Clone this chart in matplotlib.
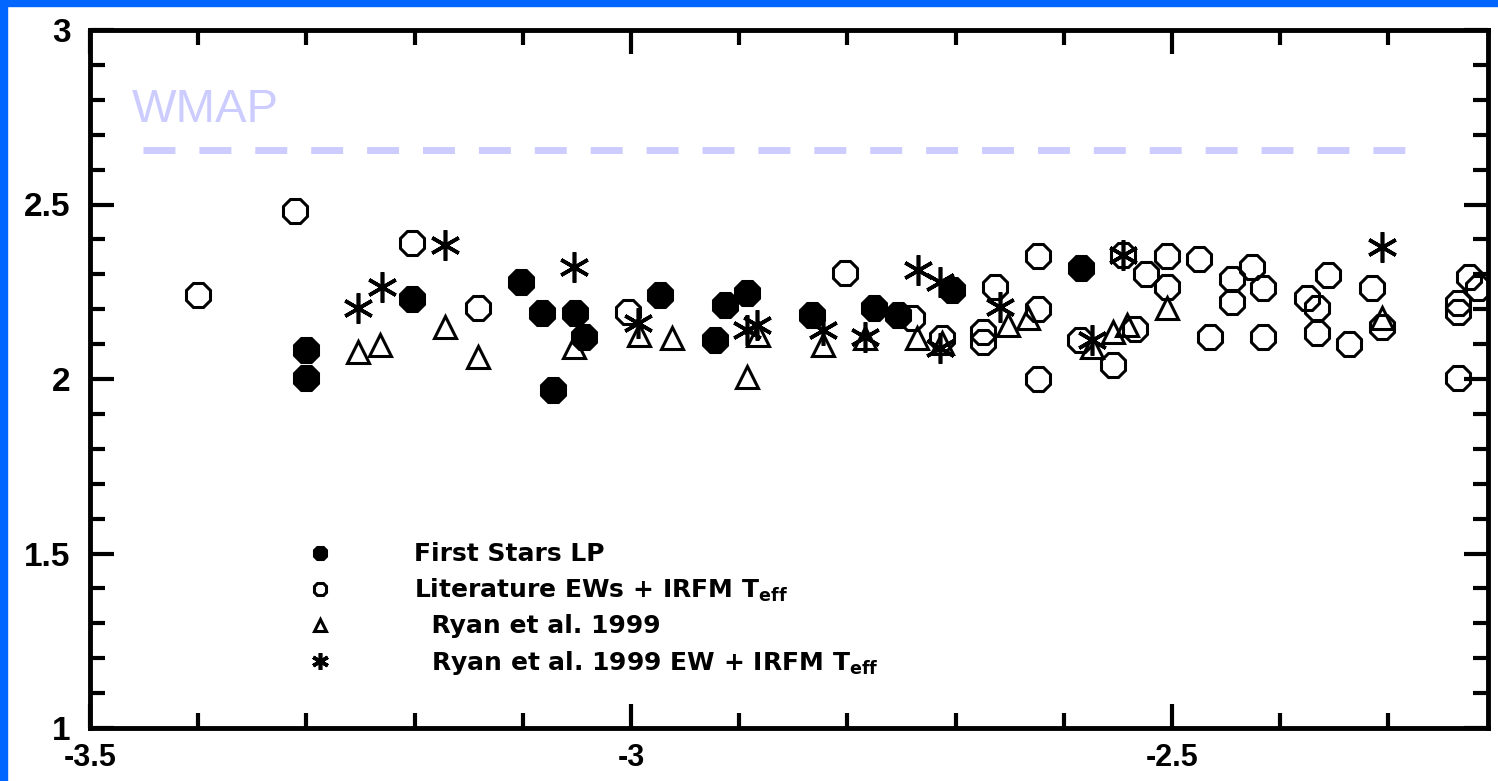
import matplotlib
matplotlib.use("Agg")
import matplotlib.pyplot as plt
from matplotlib.patches import Rectangle
from matplotlib.ticker import MultipleLocator, FuncFormatter

# First Stars LP (filled)
first_x = [-3.300, -3.300, -3.202, -3.102, -3.082, -3.052, -3.043, -3.072, -2.973,
           -2.922, -2.913, -2.893, -2.833, -2.775, -2.753, -2.703, -2.584]
first_y = [2.083, 2.003, 2.229, 2.278, 2.189, 2.189, 2.120, 1.968, 2.241,
           2.112, 2.212, 2.246, 2.183, 2.203, 2.183, 2.255, 2.318]

# Literature EWs + IRFM Teff (open)
lit_x = [-3.400, -3.311, -3.202, -3.141, -3.003, -2.802, -2.740, -2.713, -2.664, -2.675,
         -2.675, -2.624, -2.624, -2.624, -2.585, -2.555, -2.534, -2.545, -2.524, -2.505,
         -2.505, -2.475, -2.465, -2.445, -2.445, -2.426, -2.416, -2.416, -2.375, -2.366,
         -2.366, -2.356, -2.336, -2.315, -2.306, -2.236, -2.236, -2.226, -2.217, -2.236]
lit_y = [2.241, 2.481, 2.390, 2.203, 2.192, 2.304, 2.175, 2.117, 2.264, 2.135,
         2.106, 2.352, 2.201, 2.000, 2.112, 2.040, 2.143, 2.355, 2.301, 2.352,
         2.264, 2.344, 2.120, 2.287, 2.221, 2.321, 2.261, 2.120, 2.232, 2.203,
         2.132, 2.298, 2.100, 2.261, 2.149, 2.218, 2.192, 2.292, 2.261, 2.003]

# Ryan et al. 1999 (triangles)
ryan_x = [-3.252, -3.232, -3.172, -3.141, -3.053, -2.993, -2.962, -2.893, -2.883, -2.823,
          -2.784, -2.736, -2.713, -2.652, -2.633, -2.574, -2.555, -2.542, -2.505, -2.306]
ryan_y = [2.077, 2.097, 2.149, 2.063, 2.092, 2.126, 2.117, 2.006, 2.126, 2.097,
          2.117, 2.117, 2.103, 2.155, 2.175, 2.092, 2.135, 2.155, 2.203, 2.175]

# Ryan et al. 1999 EW + IRFM Teff (asterisks)
ryanirfm_x = [-3.252, -3.230, -3.172, -3.053, -2.994, -2.893, -2.884, -2.823, -2.784, -2.735,
              -2.714, -2.714, -2.659, -2.574, -2.545, -2.306]
ryanirfm_y = [2.203, 2.264, 2.384, 2.321, 2.160, 2.140, 2.155, 2.140, 2.120, 2.312,
              2.278, 2.089, 2.206, 2.112, 2.355, 2.378]

wmap_level = 2.655
wmap_xrange = (-3.451, -2.28)

labels = ["First Stars LP",
          r"Literature EWs + IRFM T$_{\mathbf{eff}}$",
          "  Ryan et al. 1999",
          r"  Ryan et al. 1999 EW + IRFM T$_{\mathbf{eff}}$"]

fig = plt.figure(figsize=(14.98, 7.81), dpi=100)
fig.patch.set_facecolor("white")
ax = fig.add_axes([90 / 1498, 53 / 781, 1398 / 1498, 698 / 781])

# blue frame strips along top and left edge
fig.patches.append(Rectangle((0, 1 - 6 / 781), 1, 6 / 781, transform=fig.transFigure,
                             color="#0066ff", zorder=0))
fig.patches.append(Rectangle((0, 0), 7 / 1498, 1, transform=fig.transFigure,
                             color="#0066ff", zorder=0))

ms = 18
mew = 2.2
h_lit, = ax.plot(lit_x, lit_y, ls="none", marker="8", ms=ms, mfc="none", mec="black", mew=mew)
h_first, = ax.plot(first_x, first_y, ls="none", marker="8", ms=ms, mfc="black", mec="black", mew=mew)
h_ryan, = ax.plot(ryan_x, ryan_y, ls="none", marker="^", ms=ms - 2, mfc="none", mec="black", mew=mew)
h_star, = ax.plot(ryanirfm_x, ryanirfm_y, ls="none", marker=(6, 2, 0), ms=ms + 4,
                  mfc="none", mec="black", mew=2.6)

ax.hlines(wmap_level, *wmap_xrange, colors="#ccccff", linewidth=5,
          linestyles=(0, (4.6, 3.45)))
ax.text(-3.461, 2.736, "WMAP", color="#ccccff", fontsize=34,
        family=["Liberation Sans", "DejaVu Sans"], va="baseline", ha="left")

ax.set_xlim(-3.5, -2.208)
ax.set_ylim(1, 3)
ax.xaxis.set_major_locator(MultipleLocator(0.5))
ax.xaxis.set_minor_locator(MultipleLocator(0.1))
ax.yaxis.set_major_locator(MultipleLocator(0.5))
ax.yaxis.set_minor_locator(MultipleLocator(0.1))
ax.xaxis.set_major_formatter(FuncFormatter(lambda v, p: f"{v:g}"))
ax.yaxis.set_major_formatter(FuncFormatter(lambda v, p: f"{v:g}"))

ax.tick_params(which="both", direction="in", top=True, right=True, width=3, color="black")
ax.tick_params(which="major", length=17)
ax.tick_params(axis="y", which="major", pad=14)
ax.tick_params(axis="x", which="major", pad=11)
ax.tick_params(which="minor", length=11)
for lab in ax.get_yticklabels():
    lab.set_family(["Liberation Sans", "DejaVu Sans"])
    lab.set_fontweight("bold")
    lab.set_fontsize(24)
for lab in ax.get_xticklabels():
    lab.set_family(["Liberation Sans", "DejaVu Sans"])
    lab.set_fontweight("bold")
    lab.set_fontsize(22)
for sp in ax.spines.values():
    sp.set_linewidth(3.5)

leg = ax.legend([h_first, h_lit, h_ryan, h_star], labels, loc="upper left",
                bbox_to_anchor=(0.138, 0.284), frameon=False, markerscale=0.55,
                handlelength=2.0, handletextpad=2.75, labelspacing=0.42, borderpad=0,
                prop={"weight": "bold", "size": 18, "family": "DejaVu Sans"})

fig.savefig("out.png", dpi=100)
